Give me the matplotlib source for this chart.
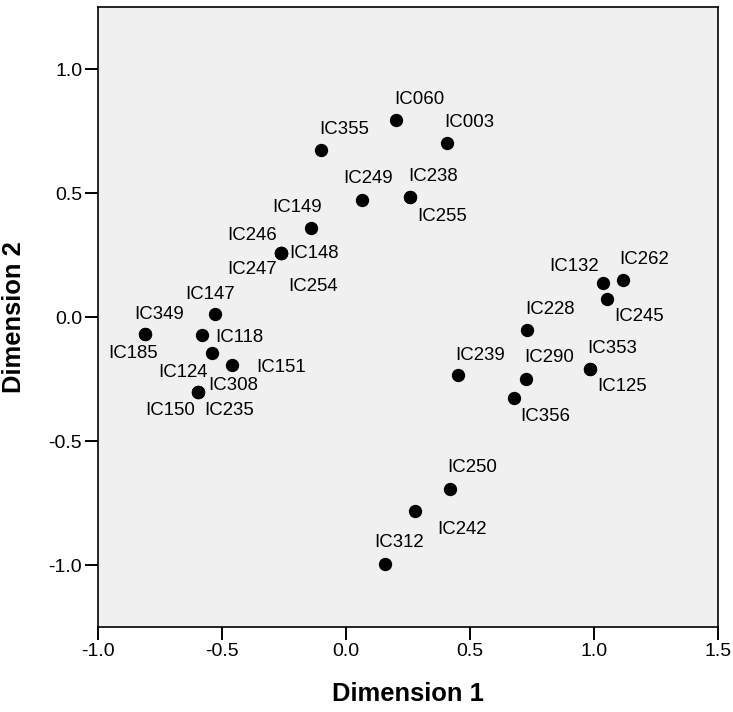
import matplotlib
matplotlib.use("Agg")
import matplotlib.pyplot as plt

plt.rcParams['font.family'] = ['Liberation Sans', 'DejaVu Sans']

# object scores
labels = ["IC060", "IC003", "IC355", "IC249", "IC238", "IC255", "IC149",
          "IC246", "IC148", "IC247", "IC254", "IC147", "IC349", "IC185",
          "IC118", "IC124", "IC151", "IC308", "IC150", "IC235", "IC132",
          "IC262", "IC245", "IC228", "IC239", "IC290", "IC356", "IC353",
          "IC125", "IC250", "IC242", "IC312"]
dim1 = [0.202, 0.406, -0.101, 0.063, 0.259, 0.259, -0.142,
        -0.263, -0.263, -0.263, -0.263, -0.528, -0.809, -0.809,
        -0.579, -0.542, -0.458, -0.596, -0.596, -0.596, 1.036,
        1.117, 1.052, 0.730, 0.450, 0.727, 0.676, 0.984,
        0.984, 0.419, 0.278, 0.157]
dim2 = [0.794, 0.700, 0.673, 0.472, 0.483, 0.483, 0.358,
        0.259, 0.259, 0.259, 0.259, 0.013, -0.070, -0.070,
        -0.073, -0.146, -0.194, -0.301, -0.301, -0.301, 0.136,
        0.149, 0.073, -0.052, -0.234, -0.250, -0.328, -0.208,
        -0.208, -0.695, -0.782, -0.996]

# label placement around each dot (pixels, right / down)
label_offsets = {
    "IC060": (23, -21), "IC003": (23, -21), "IC355": (23, -21),
    "IC249": (6, -21), "IC238": (23, -21), "IC255": (32, 19),
    "IC149": (-14, -21), "IC246": (-29, -17), "IC148": (33, 1),
    "IC247": (-29, 17), "IC254": (32, 34), "IC147": (-5, -19),
    "IC349": (14, -20), "IC185": (-12, 19), "IC118": (37, 2),
    "IC124": (-29, 19), "IC151": (49, 2), "IC308": (35, -6),
    "IC150": (-28, 19), "IC235": (31, 19), "IC132": (-29, -17),
    "IC262": (21, -21), "IC245": (32, 18), "IC228": (23, -20),
    "IC239": (23, -20), "IC290": (23, -21), "IC356": (32, 18),
    "IC353": (22, -20), "IC125": (32, 18), "IC250": (22, -22),
    "IC242": (47, 19), "IC312": (14, -22),
}

fig = plt.figure(figsize=(7.33, 7.12), dpi=100)
ax = fig.add_axes([98 / 733, 85 / 712, 620 / 733, 620 / 712])
ax.set_facecolor("#f0f0f0")

ax.scatter(dim1, dim2, s=92, color="black", zorder=3, linewidths=0)
for name, x, y in zip(labels, dim1, dim2):
    dx, dy = label_offsets[name]
    ax.annotate(name, (x, y), xytext=(dx * 0.72, -dy * 0.72),
                textcoords="offset points", ha="center", va="center",
                fontsize=13.4)

ax.set_xlim(-1.0, 1.5)
ax.set_ylim(-1.25, 1.25)
ax.set_xticks([-1.0, -0.5, 0.0, 0.5, 1.0, 1.5])
ax.set_yticks([-1.0, -0.5, 0.0, 0.5, 1.0])
ax.xaxis.set_major_formatter(plt.FormatStrFormatter("%.1f"))
ax.yaxis.set_major_formatter(plt.FormatStrFormatter("%.1f"))
ax.tick_params(direction="out", length=9.4, width=1.4, labelsize=14, pad=2)
for sp in ax.spines.values():
    sp.set_linewidth(1.2)

ax.set_xlabel("Dimension 1", fontsize=18.4, fontweight="bold", labelpad=16)
ax.set_ylabel("Dimension 2", fontsize=18.4, fontweight="bold", labelpad=16)

fig.savefig("out.png", dpi=100)
